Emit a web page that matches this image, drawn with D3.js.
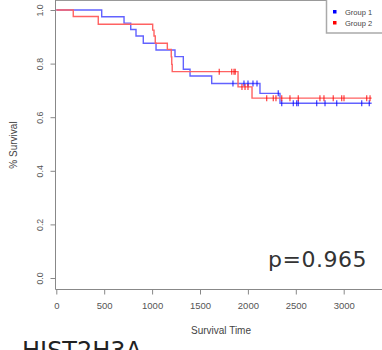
<!DOCTYPE html>
<html lang="en">
  <head>
    <meta charset="utf-8" />
    <title>Survival</title>
    <script src="https://d3js.org/d3.v7.min.js"></script>
    <style type="text/css">
      body { margin: 0; background: #fff; }
      svg { display: block; font-family: 'Liberation Sans', Arial, sans-serif; }
    </style>
  </head>
  <body>
    <script type="text/javascript">
      // step points: time of drop, survival after the drop
      const g1Times = [0, 474, 707, 777, 832, 908, 1041, 1239, 1326, 1396, 1622, 2126, 2335, 3292];
      const g1Surv = [1.0, 0.975, 0.951, 0.927, 0.903, 0.876, 0.851, 0.826, 0.779, 0.754, 0.726, 0.689, 0.652, 0.652];
      const g1Censor = [1844, 1959, 2001, 2053, 2095, 2317, 2353, 2474, 2509, 2526, 2718, 2805, 2927, 3188, 3267];

      const g2Times = [0, 177, 438, 1006, 1020, 1033, 1159, 1200, 1205, 1210, 1897, 2043, 3292];
      const g2Surv = [1.0, 0.976, 0.947, 0.925, 0.903, 0.876, 0.853, 0.825, 0.797, 0.770, 0.713, 0.671, 0.671];
      const g2Censor = [1701, 1831, 1855, 1868, 1938, 1970, 2001, 2196, 2265, 2293, 2353, 2439, 2526, 2752, 2794, 2891, 2979, 3003, 3240, 3275];

      const xTicks = [0, 500, 1000, 1500, 2000, 2500, 3000];
      const yTicks = [0, 0.2, 0.4, 0.6, 0.8, 1.0];
      const groups = ['Group 1', 'Group 2'];
      const pText = 'p=0.965';
      const geneName = 'HIST2H3A';

      const w = 382;
      const h = 350;
      const lineCols = ['#6262ff', '#ff6262'];
      const keyCols = ['#0000ff', '#ff0000'];

      const xScale = d3.scaleLinear().domain([0, 3000]).range([56.3, 343.7]);
      const yScale = d3.scaleLinear().domain([0, 1]).range([278, 10]);

      const svg = d3.select('body').append('svg').attr('width', w).attr('height', h);

      // plot frame
      svg.append('line').attr('x1', 55.5).attr('x2', w).attr('y1', 0.5).attr('y2', 0.5)
        .attr('stroke', '#999');
      svg.append('line').attr('x1', 55.5).attr('x2', 55.5).attr('y1', 0).attr('y2', 289.5)
        .attr('stroke', '#888');
      svg.append('line').attr('x1', 55.5).attr('x2', w).attr('y1', 289.5).attr('y2', 289.5)
        .attr('stroke', '#888');

      // axes
      const xAxis = d3.axisBottom(xScale).tickValues(xTicks).tickSize(5).tickFormat(d3.format('d'));
      const gx = svg.append('g').attr('transform', 'translate(0,289.5)').call(xAxis);
      gx.select('.domain').remove();
      gx.selectAll('line').attr('stroke', '#888');
      gx.selectAll('text').attr('fill', '#555').attr('font-size', 9.5).attr('y', 13);

      const yAxis = d3.axisLeft(yScale).tickValues(yTicks).tickSize(5).tickFormat(d3.format('.1f'));
      const gy = svg.append('g').attr('transform', 'translate(55.5,0)').call(yAxis);
      gy.select('.domain').remove();
      gy.selectAll('line').attr('stroke', '#888');
      gy.selectAll('text')
        .attr('fill', '#555')
        .attr('font-size', 8.8)
        .attr('x', 0)
        .attr('dy', 0)
        .attr('transform', 'translate(-13,0) rotate(-90)')
        .style('text-anchor', 'middle');

      // axis names
      svg.append('text')
        .attr('x', 221)
        .attr('y', 334)
        .attr('font-size', 10)
        .attr('fill', '#444')
        .style('text-anchor', 'middle')
        .text('Survival Time');

      svg.append('text')
        .attr('transform', 'translate(16.5,145) rotate(-90)')
        .attr('font-size', 10)
        .attr('fill', '#444')
        .style('text-anchor', 'middle')
        .text('% Survival');

      // curves
      const stepLine = d3.line()
        .x(d => xScale(d[0]))
        .y(d => yScale(d[1]))
        .curve(d3.curveStepAfter);

      const survAt = (times, surv, t) => {
        let s = surv[0];
        times.forEach((tt, i) => { if (tt <= t) s = surv[i]; });
        return s;
      };

      const series = [
        { times: g1Times, surv: g1Surv, cens: g1Censor },
        { times: g2Times, surv: g2Surv, cens: g2Censor }
      ];

      series.forEach((sr, k) => {
        const pts = sr.times.map((t, i) => [t, sr.surv[i]]);
        svg.append('path')
          .datum(pts)
          .attr('d', stepLine)
          .attr('fill', 'none')
          .attr('stroke', lineCols[k])
          .attr('stroke-width', 1.4);

        svg.append('g')
          .selectAll('line')
          .data(sr.cens)
          .enter()
          .append('line')
          .attr('x1', d => xScale(d))
          .attr('x2', d => xScale(d))
          .attr('y1', d => yScale(survAt(sr.times, sr.surv, d)) - 3)
          .attr('y2', d => yScale(survAt(sr.times, sr.surv, d)) + 3)
          .attr('stroke', keyCols[k])
          .attr('stroke-opacity', 0.7)
          .attr('stroke-width', 1.3);
      });

      // legend
      const legend = svg.append('g');
      legend.append('rect')
        .attr('x', 326.5).attr('y', -5).attr('width', 70).attr('height', 38)
        .attr('fill', '#fff').attr('stroke', '#aaa').attr('stroke-width', 1.5);
      groups.forEach((g, i) => {
        legend.append('rect')
          .attr('x', 333).attr('y', 10 + i * 11).attr('width', 3.5).attr('height', 3.5)
          .attr('fill', keyCols[i]);
        legend.append('text')
          .attr('x', 345).attr('y', 14.5 + i * 11)
          .attr('font-size', 7.5).attr('fill', '#444')
          .text(g);
      });

      // p value
      svg.append('text')
        .attr('x', 367).attr('y', 267)
        .attr('font-family', 'DejaVu Sans, sans-serif')
        .attr('font-size', 22)
        .attr('letter-spacing', 0.5)
        .attr('fill', '#333')
        .style('text-anchor', 'end')
        .text(pText);

      // gene name, cut at the bottom
      svg.append('text')
        .attr('x', 22).attr('y', 359)
        .attr('font-family', 'DejaVu Sans, sans-serif')
        .attr('font-size', 24)
        .attr('fill', '#222')
        .text(geneName);
    </script>
  </body>
</html>
